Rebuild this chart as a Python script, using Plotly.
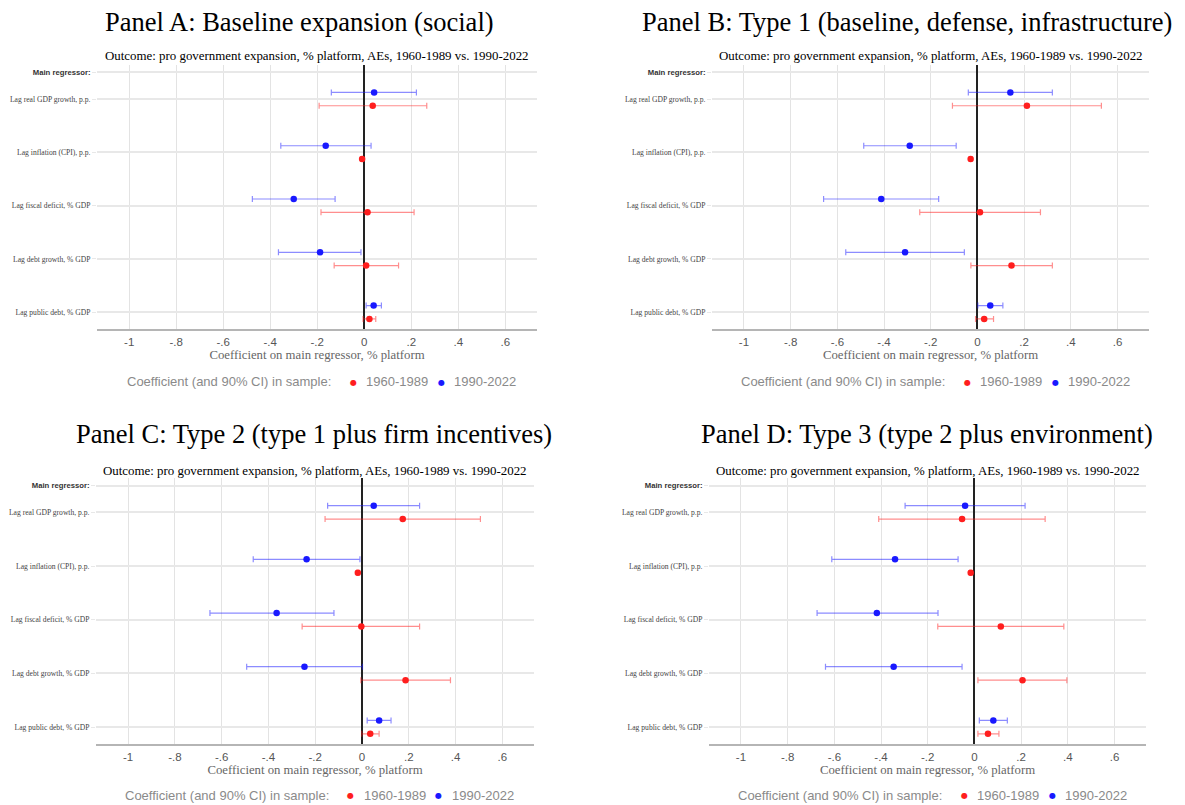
import plotly.graph_objects as go

# ---------------- data ----------------
categories = [
    "Lag real GDP growth, p.p.",
    "Lag inflation (CPI), p.p.",
    "Lag fiscal deficit, % GDP",
    "Lag debt growth, % GDP",
    "Lag public debt, % GDP",
]
header_label = "Main regressor:"
x_tick_vals = [-1, -0.8, -0.6, -0.4, -0.2, 0, 0.2, 0.4, 0.6]
x_tick_text = ["-1", "-.8", "-.6", "-.4", "-.2", "0", ".2", ".4", ".6"]

panel_titles = [
    "Panel A: Baseline expansion (social)",
    "Panel B: Type 1 (baseline, defense, infrastructure)",
    "Panel C: Type 2 (type 1 plus firm incentives)",
    "Panel D: Type 3 (type 2 plus environment)",
]
subtitle = "Outcome: pro government expansion, % platform, AEs, 1960-1989 vs. 1990-2022"
x_title = "Coefficient on main regressor, % platform"
legend_title = "Coefficient (and 90% CI) in sample:"
series_names = ["1960-1989", "1990-2022"]

# Panel A
a_early_coef = [0.036, -0.009, 0.014, 0.008, 0.022]
a_early_lo = [-0.192, -0.014, -0.184, -0.128, -0.005]
a_early_hi = [0.266, -0.004, 0.212, 0.146, 0.049]
a_late_coef = [0.042, -0.164, -0.300, -0.188, 0.040]
a_late_lo = [-0.140, -0.355, -0.476, -0.365, 0.008]
a_late_hi = [0.222, 0.029, -0.124, -0.014, 0.073]

# Panel B
b_early_coef = [0.212, -0.029, 0.011, 0.146, 0.029]
b_early_lo = [-0.107, -0.034, -0.247, -0.028, -0.008]
b_early_hi = [0.531, -0.024, 0.270, 0.321, 0.069]
b_late_coef = [0.141, -0.290, -0.412, -0.310, 0.055]
b_late_lo = [-0.039, -0.487, -0.659, -0.564, 0.002]
b_late_hi = [0.321, -0.091, -0.166, -0.056, 0.109]

# Panel C
c_early_coef = [0.174, -0.018, -0.003, 0.186, 0.035]
c_early_lo = [-0.158, -0.023, -0.256, -0.005, -0.001]
c_early_hi = [0.506, -0.013, 0.246, 0.378, 0.073]
c_late_coef = [0.050, -0.237, -0.365, -0.246, 0.073]
c_late_lo = [-0.147, -0.465, -0.650, -0.493, 0.022]
c_late_hi = [0.246, -0.009, -0.120, 0.002, 0.124]

# Panel D
d_early_coef = [-0.053, -0.016, 0.113, 0.206, 0.058]
d_early_lo = [-0.410, -0.021, -0.157, 0.015, 0.015]
d_early_hi = [0.303, -0.011, 0.383, 0.396, 0.105]
d_late_coef = [-0.040, -0.340, -0.418, -0.346, 0.081]
d_late_lo = [-0.297, -0.611, -0.674, -0.638, 0.021]
d_late_hi = [0.217, -0.070, -0.156, -0.053, 0.141]

panels_data = [
    (a_early_coef, a_early_lo, a_early_hi, a_late_coef, a_late_lo, a_late_hi),
    (b_early_coef, b_early_lo, b_early_hi, b_late_coef, b_late_lo, b_late_hi),
    (c_early_coef, c_early_lo, c_early_hi, c_late_coef, c_late_lo, c_late_hi),
    (d_early_coef, d_early_lo, d_early_hi, d_late_coef, d_late_lo, d_late_hi),
]

# ---------------- layout geometry (pixels) ----------------
W, H = 1185, 805
geom = [
    dict(x0=97, x1=537, y0=65, y1=329.3, tx=299, ty=22, sy=55.5, lx=125, ly=381.5),
    dict(x0=712, x1=1149, y0=65, y1=329.3, tx=907, ty=22, sy=55.5, lx=739, ly=381.5),
    dict(x0=96, x1=534, y0=478, y1=744.3, tx=314, ty=434, sy=470.5, lx=122.5, ly=795),
    dict(x0=709, x1=1146, y0=478, y1=744.3, tx=927, ty=434, sy=470.5, lx=736, ly=795),
]

SERIF = "Liberation Serif"
SANS = "Liberation Sans"
RED = "rgb(255,30,30)"
BLUE = "rgb(25,25,255)"
RED_BAR = "rgba(255,30,30,0.5)"
BLUE_BAR = "rgba(25,25,255,0.5)"
LEG_GRAY = "#8a8a8a"

cat_pos = [5, 4, 3, 2, 1]
header_pos = 5.5
offset = 0.125

fig = go.Figure()
annotations = []
layout_updates = {}

for i, (g, title, pdata) in enumerate(zip(geom, panel_titles, panels_data)):
    n = i + 1
    xa = "x" if n == 1 else f"x{n}"
    ya = "y" if n == 1 else f"y{n}"
    e_coef, e_lo, e_hi, l_coef, l_lo, l_hi = pdata

    specs = [
        (series_names[0], e_coef, e_lo, e_hi, -offset, RED, RED_BAR),
        (series_names[1], l_coef, l_lo, l_hi, +offset, BLUE, BLUE_BAR),
    ]
    for name, coef, lo, hi, off, col, barcol in specs:
        fig.add_trace(go.Scatter(
            x=coef,
            y=[p + off for p in cat_pos],
            mode="markers",
            name=name,
            showlegend=False,
            marker=dict(color=col, size=6.5),
            error_x=dict(
                type="data", symmetric=False,
                array=[h - c for h, c in zip(hi, coef)],
                arrayminus=[c - l for c, l in zip(coef, lo)],
                color=barcol, thickness=1.2, width=3,
            ),
            xaxis=xa, yaxis=ya,
            hovertemplate="%{x:.3f}<extra>" + name + "</extra>",
        ))

    xkey = "xaxis" if n == 1 else f"xaxis{n}"
    ykey = "yaxis" if n == 1 else f"yaxis{n}"
    layout_updates[xkey] = dict(
        domain=[g["x0"] / W, g["x1"] / W],
        range=[-1.137, 0.735],
        tickvals=x_tick_vals, ticktext=x_tick_text,
        showgrid=True, gridcolor="#e3e3e3", gridwidth=1,
        zeroline=True, zerolinecolor="#222222", zerolinewidth=2,
        showline=True, linecolor="#b5b5b5", linewidth=1.5,
        ticks="outside", ticklen=1.5, tickcolor="rgba(0,0,0,0)",
        tickfont=dict(family=SANS, size=11.5, color="#555555"),
        title=dict(text=x_title, font=dict(family=SERIF, size=12.75, color="#666666"), standoff=1),
        anchor=ya, fixedrange=True,
    )
    layout_updates[ykey] = dict(
        domain=[1 - g["y1"] / H, 1 - g["y0"] / H],
        range=[0.68, 5.64],
        tickvals=[header_pos] + cat_pos,
        ticktext=[f"<span style='font-family:{SANS};font-size:7.7px;color:#333'><b>{header_label}</b></span>"] + categories,
        showgrid=True, gridcolor="#e8e8e8", gridwidth=1.5,
        zeroline=False, showline=False,
        ticks="outside", ticklen=4, tickcolor="#e8e8e8",
        tickfont=dict(family=SERIF, size=7.6, color="#444444"),
        anchor=xa, fixedrange=True,
    )

    # panel title and subtitle
    annotations.append(dict(
        text=title, x=g["tx"] / W, y=1 - g["ty"] / H,
        xref="paper", yref="paper", xanchor="center", yanchor="middle",
        showarrow=False, font=dict(family=SERIF, size=26.5, color="#000000"),
    ))
    annotations.append(dict(
        text=subtitle, x=(g["x0"] + g["x1"]) / 2 / W, y=1 - g["sy"] / H,
        xref="paper", yref="paper", xanchor="center", yanchor="middle",
        showarrow=False, font=dict(family=SERIF, size=12.9, color="#000000"),
    ))

    # legend row (key)
    ly = 1 - g["ly"] / H
    annotations.append(dict(
        text=legend_title, x=g["lx"] / W, y=ly,
        xref="paper", yref="paper", xanchor="left", yanchor="middle",
        showarrow=False, font=dict(family=SANS, size=13, color=LEG_GRAY),
    ))
    for k, (name, col) in enumerate(zip(series_names, [RED, BLUE])):
        dot_x = g["lx"] + (228 if k == 0 else 316)
        txt_x = g["lx"] + (239 if k == 0 else 327)
        annotations.append(dict(
            text="●", x=dot_x / W, y=1 - (g["ly"] + 0.5) / H,
            xref="paper", yref="paper", xanchor="center", yanchor="middle",
            showarrow=False, font=dict(family="DejaVu Sans", size=8, color=col),
        ))
        annotations.append(dict(
            text=name, x=txt_x / W, y=ly,
            xref="paper", yref="paper", xanchor="left", yanchor="middle",
            showarrow=False, font=dict(family=SANS, size=13, color=LEG_GRAY),
        ))

fig.update_layout(
    width=W, height=H,
    margin=dict(l=0, r=0, t=0, b=0),
    paper_bgcolor="white", plot_bgcolor="white",
    annotations=annotations,
    showlegend=False,
    **layout_updates,
)

fig.write_html("out.html", config={"displayModeBar": False})
